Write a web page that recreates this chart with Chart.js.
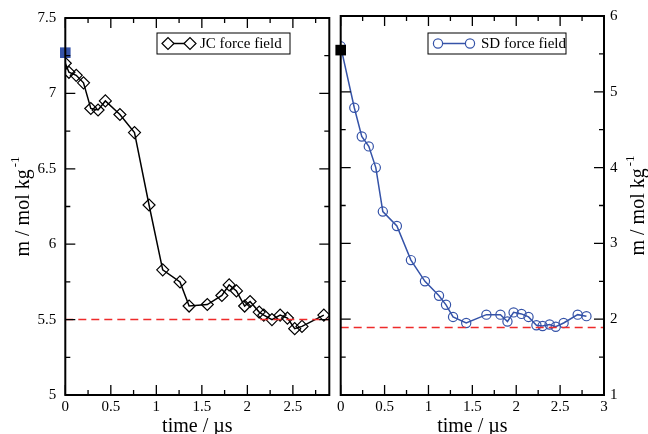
<!DOCTYPE html>
<html>
<head>
<meta charset="utf-8">
<script src="https://cdn.jsdelivr.net/npm/chart.js@4.4.0/dist/chart.umd.min.js"></script>
<style>
  body { margin: 0; background: #fff; }
  #wrap { position: relative; width: 648px; height: 434px; }
  canvas { position: absolute; left: 0; top: 0; }
</style>
</head>
<body>
<div id="wrap">
  <canvas id="jcChart" width="648" height="434"></canvas>
  <canvas id="sdChart" width="648" height="434"></canvas>
</div>
<script>
// JC force field (left panel)
const jcTime = [0, 0.04, 0.12, 0.20, 0.28, 0.36, 0.44, 0.60, 0.76, 0.92, 1.07, 1.26, 1.36, 1.56, 1.72, 1.80, 1.88, 1.97, 2.03, 2.13, 2.18, 2.27, 2.36, 2.44, 2.52, 2.60, 2.84];
const jcMolality = [7.20, 7.14, 7.12, 7.07, 6.90, 6.89, 6.95, 6.86, 6.74, 6.26, 5.83, 5.75, 5.59, 5.60, 5.66, 5.73, 5.69, 5.59, 5.62, 5.55, 5.53, 5.50, 5.53, 5.51, 5.44, 5.455, 5.53];
const jcStart = [7.27];      // square marker at t = 0
const jcSolubility = 5.5;    // dashed reference line
const jcXTicks = [0, 0.5, 1, 1.5, 2, 2.5];
const jcYTicks = [5, 5.5, 6, 6.5, 7, 7.5];
const jcXMax = 2.9;

// SD force field (right panel)
const sdTime = [0, 0.155, 0.24, 0.32, 0.40, 0.48, 0.64, 0.80, 0.96, 1.12, 1.20, 1.28, 1.43, 1.66, 1.82, 1.90, 1.97, 2.06, 2.14, 2.23, 2.30, 2.38, 2.45, 2.54, 2.70, 2.80];
const sdMolality = [5.60, 4.79, 4.41, 4.28, 4.00, 3.42, 3.23, 2.78, 2.50, 2.31, 2.19, 2.03, 1.95, 2.06, 2.06, 1.97, 2.09, 2.07, 2.03, 1.92, 1.91, 1.93, 1.90, 1.95, 2.06, 2.04];
const sdStart = [5.55];
const sdSolubility = 1.89;
const sdXTicks = [0, 0.5, 1, 1.5, 2, 2.5, 3];
const sdYTicks = [1, 2, 3, 4, 5, 6];
const sdXMax = 3;

const SERIF = '"Liberation Serif", "Times New Roman", serif';
const BLUE = '#3553a8';
const RED = '#ee2b2b';

// frame + inward ticks on all four sides, y title and legend box
const framePlugin = {
  id: 'frame',
  afterDatasetsDraw(chart, args, opts) {
    const ctx = chart.ctx;
    const a = chart.chartArea;
    const xs = chart.scales.x, ys = chart.scales.y;
    ctx.save();
    ctx.strokeStyle = '#000';
    ctx.lineWidth = 1.3;
    const tick = (v, scale, len, horiz) => {
      const p = scale.getPixelForValue(v);
      ctx.beginPath();
      if (horiz) {
        ctx.moveTo(p, a.bottom); ctx.lineTo(p, a.bottom - len);
        ctx.moveTo(p, a.top); ctx.lineTo(p, a.top + len);
      } else {
        ctx.moveTo(a.left, p); ctx.lineTo(a.left + len, p);
        ctx.moveTo(a.right, p); ctx.lineTo(a.right - len, p);
      }
      ctx.stroke();
    };
    for (let v = xs.min; v <= xs.max + 1e-9; v += opts.xMinor) {
      const major = Math.abs(v / opts.xMajor - Math.round(v / opts.xMajor)) < 1e-6;
      tick(v, xs, major ? 10 : 5, true);
    }
    for (let v = ys.min; v <= ys.max + 1e-9; v += opts.yMinor) {
      const major = Math.abs(v / opts.yMajor - Math.round(v / opts.yMajor)) < 1e-6;
      tick(v, ys, major ? 10 : 5, false);
    }
    ctx.lineWidth = 2;
    ctx.strokeRect(a.left, a.top, a.right - a.left, a.bottom - a.top);

    // y title with superscript
    ctx.fillStyle = '#000';
    ctx.translate(opts.titleX, (a.top + a.bottom) / 2);
    ctx.rotate(-Math.PI / 2);
    ctx.font = '20px ' + SERIF;
    const main = 'm / mol kg';
    const w1 = ctx.measureText(main).width;
    ctx.font = '13px ' + SERIF;
    const w2 = ctx.measureText('-1').width;
    const total = w1 + 2 + w2;
    ctx.textAlign = 'left';
    ctx.textBaseline = 'alphabetic';
    ctx.font = '20px ' + SERIF;
    ctx.fillText(main, -total / 2, 7);
    ctx.font = '13px ' + SERIF;
    ctx.fillText('-1', -total / 2 + w1 + 2, -3);
    ctx.restore();

    // legend box
    const lg = opts.legend;
    ctx.save();
    ctx.fillStyle = '#fff';
    ctx.fillRect(lg.left, lg.top, lg.right - lg.left, lg.bottom - lg.top);
    ctx.strokeStyle = '#000';
    ctx.lineWidth = 1;
    ctx.strokeRect(lg.left, lg.top, lg.right - lg.left, lg.bottom - lg.top);
    const cy = (lg.top + lg.bottom) / 2;
    ctx.strokeStyle = lg.color;
    ctx.lineWidth = 1.5;
    ctx.beginPath(); ctx.moveTo(lg.m1, cy); ctx.lineTo(lg.m2, cy); ctx.stroke();
    ctx.fillStyle = '#fff';
    const ps = {pointStyle: lg.style, radius: lg.radius, borderWidth: 1.2};
    ctx.lineWidth = 1.2;
    Chart.helpers.drawPoint(ctx, ps, lg.m1, cy);
    Chart.helpers.drawPoint(ctx, ps, lg.m2, cy);
    ctx.fillStyle = '#000';
    ctx.font = '15px ' + SERIF;
    ctx.textAlign = 'left';
    ctx.textBaseline = 'middle';
    ctx.fillText(lg.text, lg.textX, cy + 1);
    ctx.restore();
  }
};

function tickFrom(list) {
  return scale => { scale.ticks = list.map(v => ({ value: v })); };
}

function makeChart(id, cfg) {
  const points = cfg.time.map((t, i) => ({ x: t, y: cfg.values[i] }));
  return new Chart(document.getElementById(id), {
    type: 'scatter',
    data: {
      datasets: [
        {
          label: cfg.label,
          data: points,
          showLine: true,
          borderColor: cfg.color,
          borderWidth: 1.5,
          pointStyle: cfg.pointStyle,
          pointRadius: cfg.pointRadius,
          pointBorderWidth: 1.2,
          pointBorderColor: cfg.color,
          pointBackgroundColor: 'rgba(255,255,255,0)',
          order: 3
        },
        {
          label: 'solubility',
          data: [{ x: 0, y: cfg.solubility }, { x: cfg.xMax, y: cfg.solubility }],
          showLine: true,
          borderColor: RED,
          borderWidth: 1.5,
          borderDash: [8, 5],
          pointRadius: 0,
          order: 2
        },
        {
          label: 'start',
          data: [{ x: 0, y: cfg.start[0] }],
          pointStyle: 'rect',
          pointRadius: 7.5,
          pointBorderWidth: 0,
          pointBackgroundColor: cfg.squareColor,
          clip: false,
          order: 1
        }
      ]
    },
    options: {
      responsive: false,
      animation: false,
      devicePixelRatio: 1,
      layout: { padding: cfg.padding },
      plugins: {
        legend: { display: false },
        tooltip: { enabled: false },
        frame: cfg.frame
      },
      scales: {
        x: {
          type: 'linear',
          min: 0,
          max: cfg.xMax,
          afterBuildTicks: tickFrom(cfg.xTicks),
          afterFit: s => { s.height = 39; },
          grid: { display: false, drawTicks: false },
          border: { display: false },
          ticks: {
            padding: 3,
            color: '#000',
            font: { family: SERIF, size: 15 },
            maxRotation: 0,
            callback: v => String(v)
          },
          title: {
            display: true,
            text: 'time / \u00b5s',
            color: '#000',
            font: { family: SERIF, size: 20 },
            padding: { top: 0, bottom: -5 }
          }
        },
        y: {
          type: 'linear',
          position: cfg.yPosition,
          min: cfg.yTicks[0],
          max: cfg.yTicks[cfg.yTicks.length - 1],
          afterBuildTicks: tickFrom(cfg.yTicks),
          afterFit: s => { s.width = cfg.yWidth; },
          grid: { display: false, drawTicks: false },
          border: { display: false },
          ticks: {
            padding: cfg.yPad,
            color: '#000',
            font: { family: SERIF, size: 15 },
            callback: v => String(v)
          }
        }
      }
    },
    plugins: [framePlugin]
  });
}

makeChart('jcChart', {
  label: 'JC force field',
  time: jcTime, values: jcMolality, start: jcStart, solubility: jcSolubility,
  xTicks: jcXTicks, yTicks: jcYTicks, xMax: jcXMax,
  color: '#000', squareColor: BLUE, pointStyle: 'rectRot', pointRadius: 6,
  yPosition: 'left', yWidth: 65.3, yPad: 9,
  padding: { left: 0, right: 318.7, top: 16, bottom: 0 },
  frame: {
    xMajor: 0.5, xMinor: 0.25, yMajor: 0.5, yMinor: 0.25, titleX: 22,
    legend: { left: 157, right: 290, top: 33, bottom: 54, m1: 168, m2: 190, textX: 200,
              color: '#000', style: 'rectRot', radius: 6, text: 'JC force field' }
  }
});

makeChart('sdChart', {
  label: 'SD force field',
  time: sdTime, values: sdMolality, start: sdStart, solubility: sdSolubility,
  xTicks: sdXTicks, yTicks: sdYTicks, xMax: sdXMax,
  color: BLUE, squareColor: '#000', pointStyle: 'circle', pointRadius: 4.6,
  yPosition: 'right', yWidth: 44, yPad: 6,
  padding: { left: 340.7, right: 0, top: 16, bottom: 0 },
  frame: {
    xMajor: 0.5, xMinor: 0.25, yMajor: 1, yMinor: 0.5, titleX: 637,
    legend: { left: 428, right: 566, top: 33, bottom: 54, m1: 438, m2: 470, textX: 481,
              color: BLUE, style: 'circle', radius: 4.6, text: 'SD force field' }
  }
});
</script>
</body>
</html>
